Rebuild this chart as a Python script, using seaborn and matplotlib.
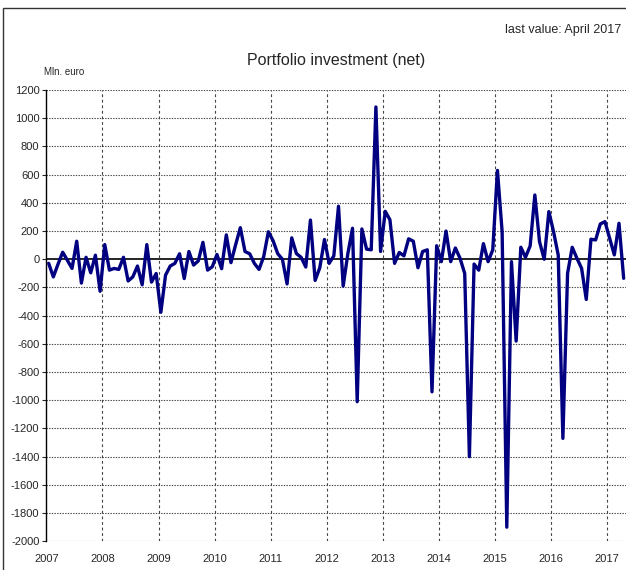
import numpy as np
import pandas as pd
import seaborn as sns
import matplotlib.pyplot as plt
from matplotlib.patches import Rectangle

# monthly values, Mln. euro, Jan 2007 - Apr 2017
values = [
    -29, -125, -35, 50, -7, -65, 128, -169, 14, -96, 29, -227,          # 2007
    104, -77, -65, -72, 14, -154, -125, -48, -181, 104, -162, -101,     # 2008
    -376, -113, -48, -29, 39, -137, 55, -41, -12, 120, -77, -53,        # 2009
    34, -67, 173, -24, 104, 224, 55, 39, -29, -72, 19, 195,             # 2010
    132, 40, 0, -175, 152, 40, 14, -55, 278, -150, -60, 140,            # 2011
    -29, 24, 376, -190, 40, 220, -1010, 215, 72, 67, 1080, 55,          # 2012
    340, 280, -29, 48, 24, 145, 128, -60, 55, 67, -940, 96,             # 2013
    -17, 200, -17, 80, 7, -101, -1400, -34, -77, 111, -17, 67,          # 2014
    630, 196, -1900, -17, -580, 85, 14, 95, 456, 125, 0, 338,           # 2015
    196, 30, -1270, -100, 85, 7, -64, -285, 142, 137, 250, 267,         # 2016
    149, 31, 255, -135,                                                 # 2017
]
year_ticks = list(range(2007, 2018))
y_ticks = list(range(-2000, 1201, 200))

dates = pd.date_range("2007-01-01", periods=len(values), freq="MS")
df = pd.DataFrame({
    "t": dates.year + (dates.month - 0.5) / 12,
    "value": values,
})

sns.set_style("white")
plt.rcParams["font.family"] = ["Liberation Sans Narrow", "Liberation Sans", "DejaVu Sans"]

fig = plt.figure(figsize=(6.26, 5.7), dpi=100)
ax = fig.add_axes([0.074, 0.0504, 0.926, 0.7916])

# outer frame
fig.patches.append(Rectangle((3 / 626, -0.1), 1.2, 0.1 + (1 - 8 / 570), transform=fig.transFigure,
                             fill=False, edgecolor="#333333", linewidth=1.0))

sns.lineplot(data=df, x="t", y="value", ax=ax, color="#000080", linewidth=2.4)

ax.set_xlim(2007, 2017 + 4 / 12)
ax.set_ylim(-2000, 1200)
ax.set_xticks(year_ticks)
ax.set_xticklabels([str(y) for y in year_ticks])
ax.set_yticks(y_ticks)
ax.set_yticklabels([str(v) for v in y_ticks])

for y in y_ticks:
    if y == 0:
        ax.axhline(0, color="black", linewidth=1.2, zorder=1)
    else:
        ax.axhline(y, color="#444444", linewidth=0.8, linestyle=(0, (1.2, 1.2)), zorder=1)
for x in year_ticks[1:]:
    ax.axvline(x, color="#444444", linewidth=0.8, linestyle=(0, (2.5, 2.5)), zorder=1)

for s in ["top", "right", "bottom"]:
    ax.spines[s].set_visible(False)
ax.spines["left"].set_color("black")
ax.spines["left"].set_linewidth(1.0)

ax.tick_params(axis="y", which="both", left=True, length=3, width=0.8, labelsize=8, pad=2)
ax.tick_params(axis="x", which="both", bottom=False, labelsize=8, pad=6)
ax.set_xlabel("")
ax.set_ylabel("")

fig.text(0.537, 0.893, "Portfolio investment (net)", ha="center", va="center", fontsize=11.5)
fig.text(0.993, 0.947, "last value: April 2017", ha="right", va="center", fontsize=9)
fig.text(0.070, 0.873, "Mln. euro", ha="left", va="center", fontsize=7)

fig.savefig("out.png", dpi=100)
